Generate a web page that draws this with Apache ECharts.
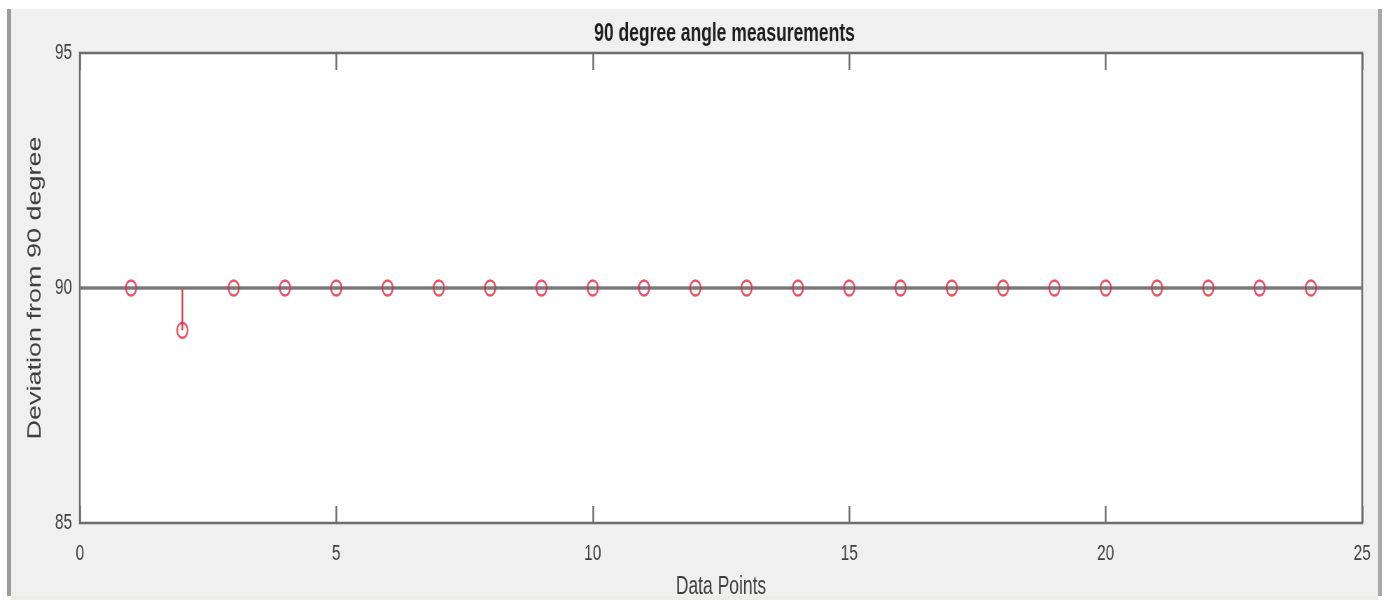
<!DOCTYPE html>
<html>
<head>
<meta charset="utf-8">
<title>90 degree angle measurements</title>
<script src="https://cdn.jsdelivr.net/npm/echarts@6/dist/echarts.min.js"></script>
<style>
  html, body { margin: 0; padding: 0; background: #ffffff; overflow: hidden; }
  #frame {
    position: absolute; left: 7px; top: 9px; width: 1367px; height: 587px;
    background: #f0f0f0;
    border-left: 4px solid #9c9c9c; border-right: 4px solid #a8a8a8;
  }
  #foot { position: absolute; left: 11px; top: 596px; width: 1367px; height: 4px; background: #ecece8; }
  /* the figure is laid out wide and then squeezed horizontally */
  #chart {
    position: absolute; left: 0; top: 0; width: 1986px; height: 600px;
    transform: scaleX(0.7); transform-origin: 0 0;
  }
</style>
</head>
<body>
<div id="frame"></div>
<div id="foot"></div>
<div id="chart"></div>
<script>
// Measurement index and the angle read at each point (degrees)
const pointIndex = [1, 2, 3, 4, 5, 6, 7, 8, 9, 10, 11, 12, 13, 14, 15, 16, 17, 18, 19, 20, 21, 22, 23, 24];
const angles = [90, 89.1, 90, 90, 90, 90, 90, 90, 90, 90, 90, 90, 90, 90, 90, 90, 90, 90, 90, 90, 90, 90, 90, 90];
const baseline = 90;
const xRange = [0, 25];
const xStep = 5;
const yRange = [85, 95];
const yStep = 5;

const FONT = '"Liberation Sans", Arial, sans-serif';
const AXIS_GRAY = '#6d6d6d';
const LABEL_GRAY = '#3f3f3f';
const STEM_RED = '#e2283e';

const points = pointIndex.map((x, i) => [x, angles[i]]);

const chart = echarts.init(document.getElementById('chart'), null, { renderer: 'canvas' });

chart.setOption({
  animation: false,
  backgroundColor: 'transparent',
  title: {
    text: '90 degree angle measurements',
    left: 1030,
    textAlign: 'center',
    top: 17,
    textStyle: { fontFamily: FONT, fontSize: 25, fontWeight: 'bold', color: '#1e1e1e' }
  },
  grid: {
    left: 114, right: 40, top: 53, bottom: 77,
    outerBoundsMode: 'none',
    show: true, backgroundColor: '#ffffff',
    borderColor: AXIS_GRAY, borderWidth: 2.5
  },
  xAxis: [
    {
      type: 'value', min: xRange[0], max: xRange[1], interval: xStep,
      position: 'bottom',
      axisLine: { show: false },
      axisTick: { inside: true, length: 17, lineStyle: { color: AXIS_GRAY, width: 2.5 } },
      axisLabel: { fontFamily: FONT, fontSize: 22, color: LABEL_GRAY, margin: 20 },
      splitLine: { show: false },
      name: 'Data Points', nameLocation: 'middle', nameGap: 52,
      nameTextStyle: { fontFamily: FONT, fontSize: 25, color: LABEL_GRAY }
    },
    {
      type: 'value', min: xRange[0], max: xRange[1], interval: xStep,
      position: 'top',
      axisLine: { show: false },
      axisTick: { inside: true, length: 17, lineStyle: { color: AXIS_GRAY, width: 2.5 } },
      axisLabel: { show: false },
      splitLine: { show: false }
    }
  ],
  yAxis: {
    type: 'value', min: yRange[0], max: yRange[1], interval: yStep,
    axisLine: { show: false },
    axisTick: { show: false },
    axisLabel: { fontFamily: FONT, fontSize: 22, color: LABEL_GRAY, margin: 11, padding: [7, 0, 0, 0] },
    splitLine: { show: false },
    name: 'Deviation from 90 degree', nameLocation: 'middle', nameGap: 50, nameRotate: 90,
    nameTextStyle: { fontFamily: FONT, fontSize: 27, color: LABEL_GRAY }
  },
  series: [
    {
      // stems from the baseline to each measurement
      type: 'custom',
      z: 2,
      data: points,
      renderItem: function (params, api) {
        const x = api.value(0);
        const p0 = api.coord([x, baseline]);
        const p1 = api.coord([x, api.value(1)]);
        return {
          type: 'line',
          shape: { x1: p0[0], y1: p0[1], x2: p1[0], y2: p1[1] },
          style: { stroke: STEM_RED, lineWidth: 2.2 }
        };
      }
    },
    {
      // stem baseline across the full axis width
      type: 'line',
      z: 3,
      data: [[xRange[0], baseline], [xRange[1], baseline]],
      symbol: 'none',
      silent: true,
      lineStyle: { color: '#7a7a7a', width: 3.5 }
    },
    {
      type: 'scatter',
      z: 4,
      data: points,
      symbol: 'circle',
      symbolSize: 15,
      itemStyle: { color: 'rgba(0,0,0,0)', borderColor: STEM_RED, borderWidth: 2.4 }
    }
  ]
});
</script>
</body>
</html>
